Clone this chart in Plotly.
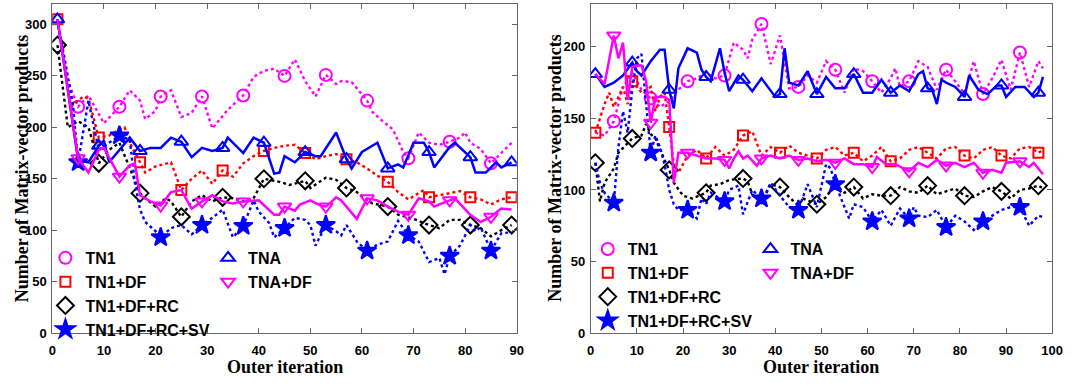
import plotly.graph_objects as go

# ---------------- data (iteration: matrix-vector products) ----------------
# Left panel (x 0..90)
L_TN1 = {1:305, 3:245, 5:220, 7:231, 8:222, 10:204, 13:220, 15:236, 17:226, 18:208, 20:216, 21:230,
         23:236, 25:210, 27:214, 29:230, 31:199, 34:217, 37:231, 39:249, 41:255, 43:257, 45:250,
         47:266, 49:245, 51:230, 53:251, 55:242, 56:245, 58:244, 61:226, 62:215, 64:206, 66:198,
         68:176, 69:170, 71:195, 73:185, 75:183, 77:186, 79:190, 80:195, 81:185, 83:179, 85:165,
         87:175, 89:185}
L_TN1_DF = {1:305, 3:240, 4:222, 6:230, 7:228, 9:190, 11:192, 13:198, 14:200, 15:185, 17:166, 18:156,
            20:162, 23:166, 25:139, 27:150, 29:158, 31:145, 33:158, 35:152, 37:165, 39:172, 41:177,
            43:180, 45:182, 47:183, 49:175, 51:169, 53:172, 55:174, 57:169, 59:166, 61:160, 63:153,
            65:147, 67:137, 69:130, 71:136, 72:139, 73:132, 75:134, 77:136, 79:138, 81:132, 83:130,
            85:125, 87:130, 89:132}
L_TN1_DF_RC = {1:280, 3:200, 5:206, 7:200, 9:165, 11:178, 13:185, 15:160, 17:136, 18:131, 20:123,
               22:131, 23:128, 25:113, 27:128, 29:134, 31:128, 33:132, 35:131, 37:128, 39:131, 41:150,
               43:148, 44:147, 46:144, 49:148, 50:141, 53:151, 55:149, 57:141, 59:137, 62:126, 65:123,
               67:115, 70:111, 73:105, 75:102, 77:110, 79:110, 81:105, 83:102, 85:94, 87:100, 89:105}
L_TN1_DF_RC_SV = {1:305, 3:250, 4:222, 5:166, 7:226, 9:178, 11:185, 13:192, 15:188, 16:146, 17:120,
                  18:108, 20:99, 21:93, 23:102, 25:105, 27:96, 29:105, 31:112, 33:120, 35:93, 37:104,
                  39:129, 40:118, 42:107, 43:93, 45:102, 47:112, 49:110, 50:105, 51:85, 53:105, 55:99,
                  56:95, 57:105, 59:89, 61:80, 63:86, 65:89, 67:109, 69:95, 71:89, 73:69, 75:73, 76:57,
                  77:75, 79:85, 81:105, 82:99, 83:103, 85:80, 87:97, 89:98}
L_TNA = {1:305, 5:168, 7:166, 9:182, 10:187, 11:166, 13:178, 15:190, 17:177, 19:180, 21:180, 23:190,
         25:186, 27:171, 29:180, 31:177, 33:180, 34:190, 37:175, 39:190, 41:185, 43:155, 44:156, 45:172,
         47:166, 49:176, 51:172, 52:172, 55:195, 57:169, 58:160, 60:176, 63:185, 65:160, 67:164, 68:161,
         70:185, 72:185, 73:176, 74:161, 77:181, 78:185, 81:171, 82:156, 84:156, 86:166, 87:161, 89:166}
L_TNA_DF = {1:305, 5:170, 7:156, 9:178, 10:180, 13:152, 15:163, 16:165, 17:134, 19:128, 21:124, 23:137,
            25:139, 27:121, 29:128, 31:134, 33:128, 35:126, 37:128, 40:129, 43:115, 44:115, 45:123,
            47:119, 48:125, 50:129, 52:124, 53:123, 54:127, 55:132, 56:129, 59:111, 61:131, 63:129,
            65:123, 67:118, 69:115, 71:131, 73:128, 74:123, 77:129, 78:131, 81:115, 83:108, 85:113,
            87:121, 89:120}

# Right panel (x 0..100)
R_TN1 = {1:140, 3:138, 5:148, 7:172, 9:182, 11:170, 13:164, 15:158, 17:162, 19:170, 21:176, 23:178,
         25:182, 27:178, 29:180, 31:203, 33:198, 34:192, 35:205, 37:216, 39:188, 41:208, 43:171, 45:172,
         47:180, 49:175, 51:190, 53:184, 55:168, 57:185, 59:183, 61:176, 63:168, 65:178, 66:185, 67:172,
         69:176, 71:190, 73:186, 75:170, 77:184, 79:176, 81:167, 83:190, 85:167, 87:178, 89:191, 91:170,
         93:196, 95:172, 97:190, 98:185}
R_TN1_DF = {1:140, 3:160, 4:168, 5:158, 7:172, 8:160, 9:176, 11:168, 13:172, 14:155, 15:165, 16:168,
            17:144, 18:118, 19:112, 21:124, 23:128, 25:122, 27:130, 29:124, 31:128, 33:138, 35:141,
            37:124, 39:130, 41:126, 43:131, 45:126, 47:124, 49:122, 51:128, 53:130, 55:124, 57:126,
            59:120, 61:124, 63:130, 65:120, 67:122, 69:128, 71:130, 73:126, 75:122, 77:129, 79:130,
            81:124, 83:122, 85:128, 87:130, 89:124, 91:122, 93:129, 95:130, 97:126, 98:128}
R_TN1_DF_RC = {1:119, 2:92, 3:105, 5:115, 6:126, 9:136, 11:138, 12:146, 13:139, 14:136, 16:121, 17:114,
               18:105, 20:96, 22:94, 25:98, 26:103, 28:104, 30:107, 33:108, 34:106, 35:97, 37:91, 39:104,
               41:102, 43:95, 45:89, 46:94, 49:90, 51:95, 53:104, 55:98, 57:102, 59:94, 61:97, 63:96,
               65:96, 67:102, 69:99, 71:98, 73:103, 75:97, 77:99, 79:101, 81:96, 83:95, 85:99, 87:102,
               89:99, 91:94, 93:100, 95:101, 97:103, 98:101}
R_TN1_DF_RC_SV = {1:119, 2:105, 3:98, 5:91, 6:130, 7:155, 8:140, 9:170, 10:192, 11:195, 12:160, 13:126,
                  14:138, 15:130, 16:118, 17:100, 18:90, 19:86, 21:86, 23:80, 24:94, 25:90, 26:98, 27:96,
                  29:92, 30:100, 32:103, 33:83, 34:92, 35:100, 37:94, 38:98, 39:105, 41:96, 43:88, 45:86,
                  47:104, 49:88, 51:118, 52:115, 53:104, 54:96, 56:80, 57:90, 59:88, 61:78, 63:86, 65:75,
                  67:87, 69:80, 70:88, 71:82, 73:81, 75:86, 77:74, 79:82, 81:78, 83:72, 85:78, 87:82,
                  89:86, 91:88, 93:88, 95:75, 97:82, 98:81}
R_TNA = {1:181, 3:172, 5:175, 7:180, 9:189, 10:183, 11:180, 12:185, 13:190, 15:198, 16:198, 17:170,
         18:157, 19:185, 21:199, 23:196, 24:184, 25:179, 26:176, 28:199, 29:182, 30:169, 32:180, 33:177,
         35:169, 37:178, 39:169, 40:165, 41:167, 42:199, 43:175, 45:173, 47:183, 49:167, 51:179, 53:171,
         55:171, 57:181, 59:168, 61:168, 63:177, 65:168, 67:173, 69:169, 71:181, 72:183, 73:171, 74:170,
         75:160, 76:177, 77:175, 79:172, 81:165, 82:180, 84:170, 86:167, 88:173, 89:173, 90:165, 92:172,
         94:172, 96:165, 97:168, 98:179}
R_TNA_DF = {1:181, 3:174, 5:208, 6:192, 7:203, 8:163, 9:186, 10:187, 11:187, 12:176, 13:147, 14:165,
            16:165, 17:163, 18:105, 19:126, 21:126, 23:124, 25:122, 27:122, 29:121, 30:115, 31:122,
            32:127, 33:122, 34:124, 36:117, 37:122, 39:124, 41:122, 43:124, 45:121, 47:122, 49:120,
            51:121, 53:119, 55:122, 57:118, 59:118, 61:116, 62:123, 64:118, 66:118, 69:113, 71:119,
            73:116, 75:121, 77:117, 79:119, 81:116, 83:119, 85:112, 87:114, 89:112, 90:119, 93:120,
            95:116, 96:119, 98:111}

NAMES = ["TN1", "TN1+DF", "TN1+DF+RC", "TN1+DF+RC+SV", "TNA", "TNA+DF"]
LEFT = [L_TN1, L_TN1_DF, L_TN1_DF_RC, L_TN1_DF_RC_SV, L_TNA, L_TNA_DF]
RIGHT = [R_TN1, R_TN1_DF, R_TN1_DF_RC, R_TN1_DF_RC_SV, R_TNA, R_TNA_DF]

# ---------------- styles ----------------
STYLE = [
    dict(color="#FF00FF", dash="dot", symbol="circle-open", size=12, start=5),
    dict(color="#FF0000", dash="dot", symbol="square-open", size=10, start=1),
    dict(color="#000000", dash="dot", symbol="diamond-open", size=13, start=1),
    dict(color="#0000FF", dash="dot", symbol="star", size=14, start=5),
    dict(color="#0000FF", dash="solid", symbol="triangle-up-open", size=12, start=1),
    dict(color="#FF00FF", dash="solid", symbol="triangle-down-open", size=12, start=5),
]

fig = go.Figure()

def add_panel(series_list, xa, ya, legends):
    for i, (name, data, st) in enumerate(zip(NAMES, series_list, STYLE)):
        xs = list(data.keys())
        ys = list(data.values())
        fig.add_trace(go.Scatter(
            x=xs, y=ys, mode="lines", xaxis=xa, yaxis=ya, showlegend=False,
            line=dict(color=st["color"], dash=st["dash"],
                      width=2.5 if st["dash"] == "solid" else 2.4),
            hoverinfo="skip"))
        mx = [k for k in xs if (k - st["start"]) % 8 == 0]
        my = [data[k] for k in mx]
        fig.add_trace(go.Scatter(
            x=mx, y=my, mode="markers", xaxis=xa, yaxis=ya, name=name,
            legend=legends[0] if i < 4 else legends[1],
            marker=dict(symbol=st["symbol"], size=st["size"], color=st["color"],
                        line=dict(width=2, color=st["color"]))))

add_panel(LEFT, "x", "y", ["legend", "legend2"])
add_panel(RIGHT, "x2", "y2", ["legend3", "legend4"])

W, H = 1079, 390
axis_common = dict(showline=True, linecolor="#666666", linewidth=1, mirror="ticks",
                   ticks="inside", ticklen=5, tickcolor="#666666", showgrid=False,
                   zeroline=False,
                   tickfont=dict(family="Liberation Sans, Arial", size=13, color="black",
                                 weight="bold"))
ydom = [1 - 340 / H, 1 - 4 / H]

leg_common = dict(xanchor="left", yanchor="top", bgcolor="rgba(0,0,0,0)",
                  font=dict(family="Liberation Sans, Arial", size=16, color="black",
                            weight="bold"),
                  tracegroupgap=0)

fig.update_layout(
    width=W, height=H, margin=dict(l=0, r=0, t=0, b=0),
    paper_bgcolor="white", plot_bgcolor="white",
    xaxis=dict(domain=[49 / W, 520 / W], range=[0, 90], tickvals=list(range(0, 91, 10)),
               anchor="y", ticklabelstandoff=5, **axis_common),
    yaxis=dict(domain=ydom, range=[0, 320], tickvals=list(range(0, 301, 50)),
               anchor="x", ticklabelstandoff=2, **axis_common),
    xaxis2=dict(domain=[595 / W, 1063 / W], range=[0, 100], tickvals=list(range(0, 101, 10)),
                anchor="y2", ticklabelstandoff=5, **axis_common),
    yaxis2=dict(domain=ydom, range=[0, 230], tickvals=list(range(0, 201, 50)),
                anchor="x2", ticklabelstandoff=2, **axis_common),
    legend=dict(x=42 / W, y=1 - 246 / H, **leg_common),
    legend2=dict(x=207 / W, y=1 - 246 / H, **leg_common),
    legend3=dict(x=592 / W, y=1 - 237 / H, **leg_common),
    legend4=dict(x=757 / W, y=1 - 237 / H, **leg_common),
)

title_font = dict(family="Liberation Serif, Times New Roman", size=18, color="black", weight="bold")
for xc in [(49 + 520) / 2, (595 + 1063) / 2]:
    fig.add_annotation(text="Outer iteration", xref="paper", yref="paper",
                       x=xc / W, y=1 - 375 / H, showarrow=False, font=title_font,
                       xanchor="center", yanchor="middle")
for xc in [19, 559]:
    fig.add_annotation(text="Number of Matrix-vector products", xref="paper", yref="paper",
                       x=xc / W, y=1 - 172 / H, showarrow=False, font=title_font,
                       textangle=-90, xanchor="center", yanchor="middle")

fig.write_html("out.html")
